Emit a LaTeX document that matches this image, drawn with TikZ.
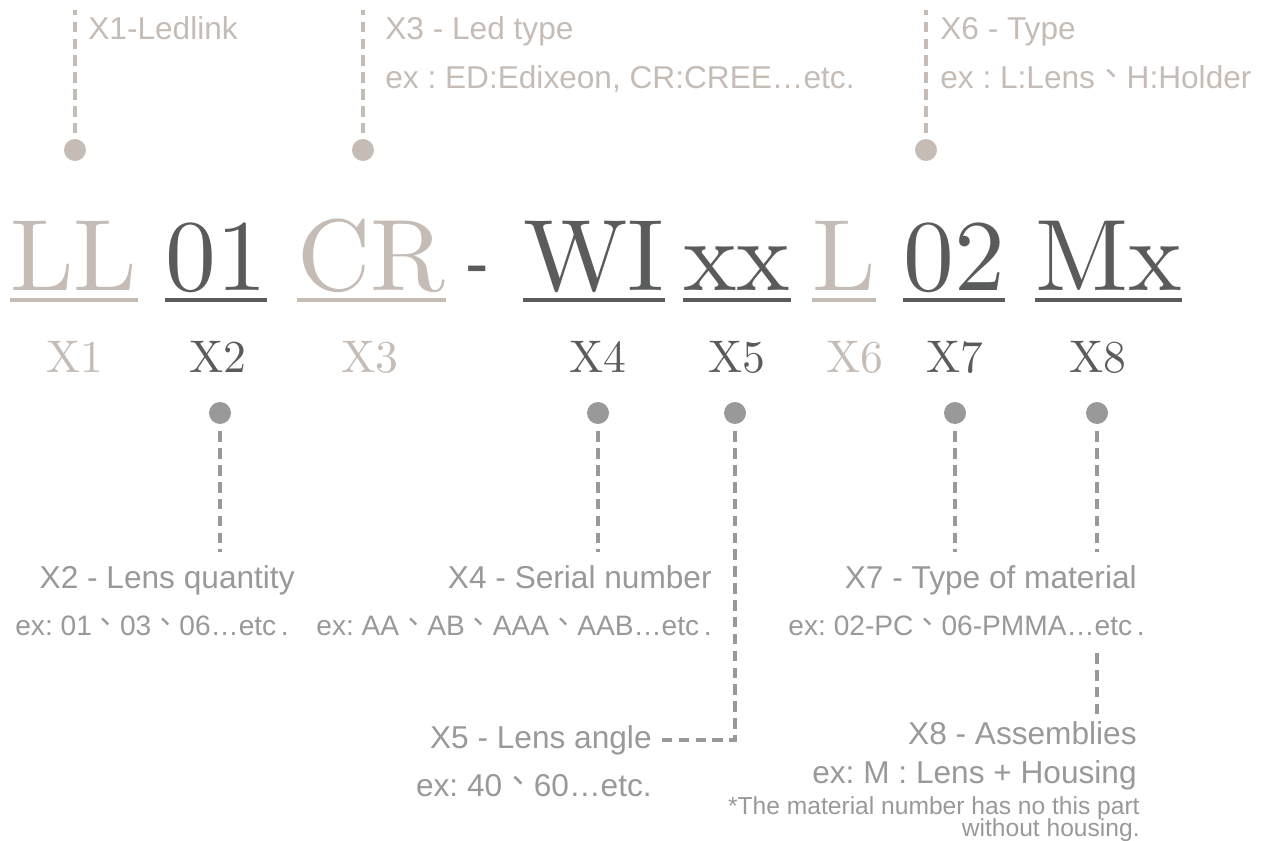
\documentclass[tikz,border=0pt]{standalone}
\usepackage{fontspec}
\newfontfamily\lmfont[Extension=.otf]{lmroman10-regular}
\newfontfamily\arial{Liberation Sans}
\newfontfamily\cjk{Noto Sans CJK TC}
\newcommand{\dun}{\raisebox{0.1em}{\cjk 、}}
\definecolor{codebeige}{HTML}{C6BCB6}
\definecolor{codedark}{HTML}{5A5C5B}
\definecolor{codegray}{HTML}{999999}
\frenchspacing
\begin{document}
\begin{tikzpicture}[x=0.02cm, y=-0.02cm]
% Estilos
\tikzstyle{code} = [inner sep=0pt, anchor=base west, font=\lmfont\fontsize{57.8}{60}\selectfont]
\tikzstyle{part} = [inner sep=0pt, anchor=base, font=\lmfont\fontsize{26}{28}\selectfont]
\tikzstyle{dot} = [circle, inner sep=0pt, minimum size=0.44cm]
\tikzstyle{lead} = [line width=2pt, dash pattern=on 6pt off 3.6pt]
\tikzstyle{uline} = [line width=2.3pt]
\tikzstyle{note} = [inner sep=0pt, font=\arial\fontsize{18}{20}\selectfont]
\tikzstyle{example} = [inner sep=0pt, font=\arial\fontsize{16}{18}\selectfont]

\useasboundingbox (0,0) rectangle (1264,841);

% Codigo del producto
\node[code, text=codebeige] (ll) at (10,290) {LL};
\node[code, text=codedark] (qty) at (165,290) {01};
\node[code, text=codebeige] (led) at (297,290) {CR};
\node[code, font=\arial\fontsize{40}{40}\selectfont, text=codedark] (sep) at (465,287) {-};
\node[code, text=codedark] (wi) at (523,290) {WI};
\node[code, text=codedark] (ang) at (683,290) {xx};
\node[code, text=codebeige] (typ) at (812,290) {L};
\node[code, text=codedark] (mat) at (903,290) {02};
\node[code, text=codedark] (asm) at (1035,290) {Mx};

% Subrayados
\draw[uline, codebeige] ([yshift=-5.7pt]ll.base west) -- ([yshift=-5.7pt]ll.base east);
\draw[uline, codedark] ([yshift=-5.7pt]qty.base west) -- ([yshift=-5.7pt]qty.base east);
\draw[uline, codebeige] ([yshift=-5.7pt]led.base west) -- ([yshift=-5.7pt]led.base east);
\draw[uline, codedark] ([yshift=-5.7pt]wi.base west) -- ([yshift=-5.7pt]wi.base east);
\draw[uline, codedark] ([yshift=-5.7pt]ang.base west) -- ([yshift=-5.7pt]ang.base east);
\draw[uline, codebeige] ([yshift=-5.7pt]typ.base west) -- ([yshift=-5.7pt]typ.base east);
\draw[uline, codedark] ([yshift=-5.7pt]mat.base west) -- ([yshift=-5.7pt]mat.base east);
\draw[uline, codedark] ([yshift=-5.7pt]asm.base west) -- ([yshift=-5.7pt]asm.base east);

% Etiquetas X1..X8
\node[part, text=codebeige] (p1) at (75,372) {X1};
\node[part, text=codedark] (p2) at (218,372) {X2};
\node[part, text=codebeige] (p3) at (370,372) {X3};
\node[part, text=codedark] (p4) at (598,372) {X4};
\node[part, text=codedark] (p5) at (737,372) {X5};
\node[part, text=codebeige] (p6) at (855,372) {X6};
\node[part, text=codedark] (p7) at (955,372) {X7};
\node[part, text=codedark] (p8) at (1098,372) {X8};

% Llamadas superiores
\node[dot, fill=codebeige] (d1) at (75,150) {};
\node[dot, fill=codebeige] (d3) at (363,150) {};
\node[dot, fill=codebeige] (d6) at (926,150) {};
\coordinate (c1) at (75,10);
\coordinate (c3) at (363,10);
\coordinate (c6) at (926,10);
\draw[lead, codebeige, shorten <=3pt] (d1) -- (c1);
\draw[lead, codebeige, shorten <=3pt] (d3) -- (c3);
\draw[lead, codebeige, shorten <=3pt] (d6) -- (c6);

\node[note, anchor=base west, text=codebeige] (t1) at (88,40) {X1-Ledlink};
\node[note, anchor=base west, text=codebeige] (t3) at (385,40) {X3 - Led type};
\node[note, anchor=base west, text=codebeige] (t3x) at (385,89) {ex : ED:Edixeon, CR:CREE…etc.};
\node[note, anchor=base west, text=codebeige] (t6) at (940,40) {X6 - Type};
\node[note, anchor=base west, text=codebeige] (t6x) at (940,89) {ex : L:Lens\dun H:Holder};

% Llamadas inferiores
\node[dot, fill=codegray] (d2) at (220,413) {};
\node[dot, fill=codegray] (d4) at (598,413) {};
\node[dot, fill=codegray] (d5) at (735,413) {};
\node[dot, fill=codegray] (d7) at (955,413) {};
\node[dot, fill=codegray] (d8) at (1097,413) {};

\node[note, anchor=base east, text=codegray] (t2) at (295,588) {X2 - Lens quantity};
\node[example, anchor=base west, text=codegray] (t2x) at (15,635) {ex: 01\dun 03\dun 06…etc\,.};
\node[note, anchor=base east, text=codegray] (t4) at (712,588) {X4 - Serial number};
\node[example, anchor=base east, text=codegray] (t4x) at (712,635) {ex: AA\dun AB\dun AAA\dun AAB…etc\,.};
\node[note, anchor=base east, text=codegray] (t5) at (652,748) {X5 - Lens angle};
\node[note, anchor=base east, text=codegray] (t5x) at (652,796) {ex: 40\dun 60…etc.};
\node[note, anchor=base east, text=codegray] (t7) at (1137,588) {X7 - Type of material};
\node[example, anchor=base east, text=codegray] (t7x) at (1145,635) {ex: 02-PC\dun 06-PMMA…etc\,.};
\node[note, anchor=base east, text=codegray] (t8) at (1137,744) {X8 - Assemblies};
\node[note, anchor=base east, text=codegray] (t8x) at (1137,783) {ex: M : Lens + Housing};
\node[note, anchor=base east, text=codegray, font=\arial\fontsize{14}{16}\selectfont] (t8n) at (1140,814) {*The material number has no this part};
\node[note, anchor=base east, text=codegray, font=\arial\fontsize{14}{16}\selectfont] (t8m) at (1140,836) {without housing.};

\draw[lead, codegray, shorten <=4pt, shorten >=7pt] (d2) -- (d2 |- t2.north);
\draw[lead, codegray, shorten <=4pt, shorten >=7pt] (d4) -- (d4 |- t4.north);
\draw[lead, codegray, shorten <=4pt, shorten >=4pt] (d5) |- (t5.east);
\draw[lead, codegray, shorten <=4pt, shorten >=7pt] (d7) -- (d7 |- t7.north);
\draw[lead, codegray, shorten <=4pt, shorten >=7pt] (d8) -- (d8 |- t7.north);
\draw[lead, codegray, shorten <=10pt, shorten >=3pt] (d8 |- t7x.south) -- (d8 |- t8.north);
\end{tikzpicture}
\end{document}
